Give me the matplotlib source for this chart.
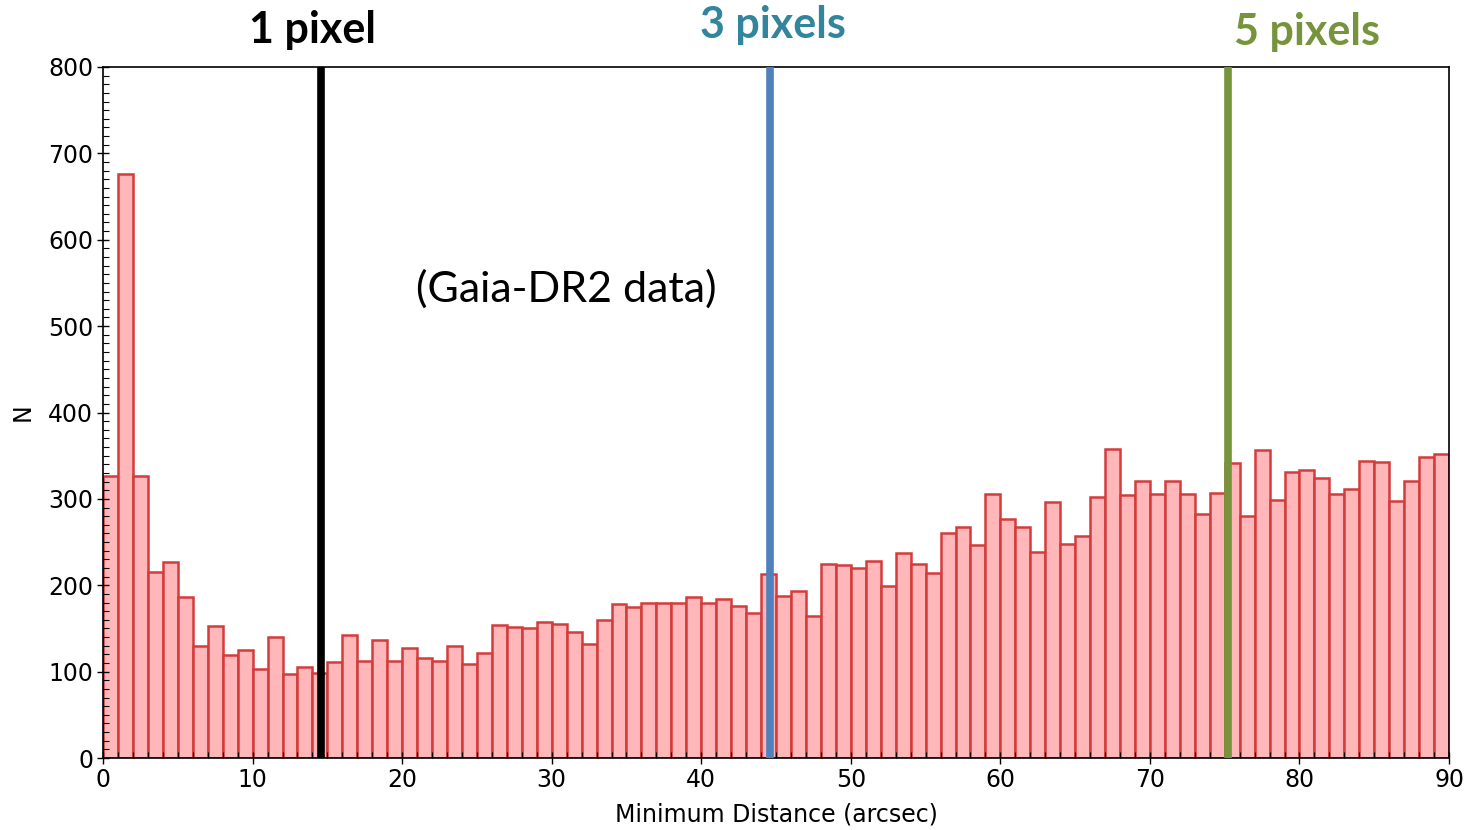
import numpy as np
import matplotlib
matplotlib.use('Agg')
import matplotlib.pyplot as plt
from matplotlib.ticker import MultipleLocator
import matplotlib.transforms as mtransforms

# histogram counts, one per 1 arcsec bin from 0 to 90
counts = [327, 676, 327, 215, 227, 186, 130, 153, 119, 125,
          103, 140, 97, 105, 99, 111, 142, 112, 137, 112,
          127, 116, 112, 130, 109, 122, 154, 152, 150, 158,
          155, 146, 132, 160, 178, 175, 179, 179, 179, 186,
          179, 184, 176, 168, 213, 188, 193, 165, 225, 224,
          220, 228, 199, 237, 225, 214, 261, 267, 247, 306,
          277, 267, 238, 296, 248, 257, 302, 358, 304, 321,
          306, 321, 306, 283, 307, 341, 280, 357, 299, 331,
          334, 324, 306, 312, 344, 343, 298, 321, 348, 352]
bin_edges = list(range(0, 91))

# pixel-size markers
marker_pos = [14.6, 44.6, 75.2]
marker_colors = ['#000000', '#4f81bd', '#77933c']
marker_labels = ['1 pixel', '3 pixels', '5 pixels']
label_colors = ['#000000', '#31859c', '#77933c']
label_x = [14.0, 44.8, 80.5]
label_y = [1.054, 1.061, 1.051]

fig = plt.figure(figsize=(14.72, 8.30), dpi=100)
ax = fig.add_axes([0.070, 0.0867, 0.9144, 0.8326])

ax.bar(bin_edges[:-1], counts, width=1.0, align='edge',
       color='#ffb7ba', edgecolor='#d43c3c', linewidth=1.8)

for x, c in zip(marker_pos, marker_colors):
    ax.axvline(x, color=c, linewidth=5.5, zorder=5)

trans = mtransforms.blended_transform_factory(ax.transData, ax.transAxes)
for x, y, t, c in zip(label_x, label_y, marker_labels, label_colors):
    ax.text(x, y, t, transform=trans, color=c, fontsize=31, fontweight='bold',
            family='Lato', ha='center', va='center')

ax.text(31, 543, '(Gaia-DR2 data)', fontsize=31, family='Lato',
        ha='center', va='center')

ax.set_xlim(0, 90)
ax.set_ylim(0, 800)
ax.xaxis.set_major_locator(MultipleLocator(10))
ax.xaxis.set_minor_locator(MultipleLocator(1))
ax.yaxis.set_major_locator(MultipleLocator(100))
ax.yaxis.set_minor_locator(MultipleLocator(10))
ax.tick_params(which='major', direction='inout', length=8, width=1,
               labelsize=17, pad=3)
ax.tick_params(which='minor', direction='in', length=4, width=0.8)
for s in ax.spines.values():
    s.set_linewidth(1.2)

ax.set_xlabel('Minimum Distance (arcsec)', fontsize=17, labelpad=8)
ax.set_ylabel('N', fontsize=17, labelpad=10)

fig.savefig('out.png', dpi=100)
